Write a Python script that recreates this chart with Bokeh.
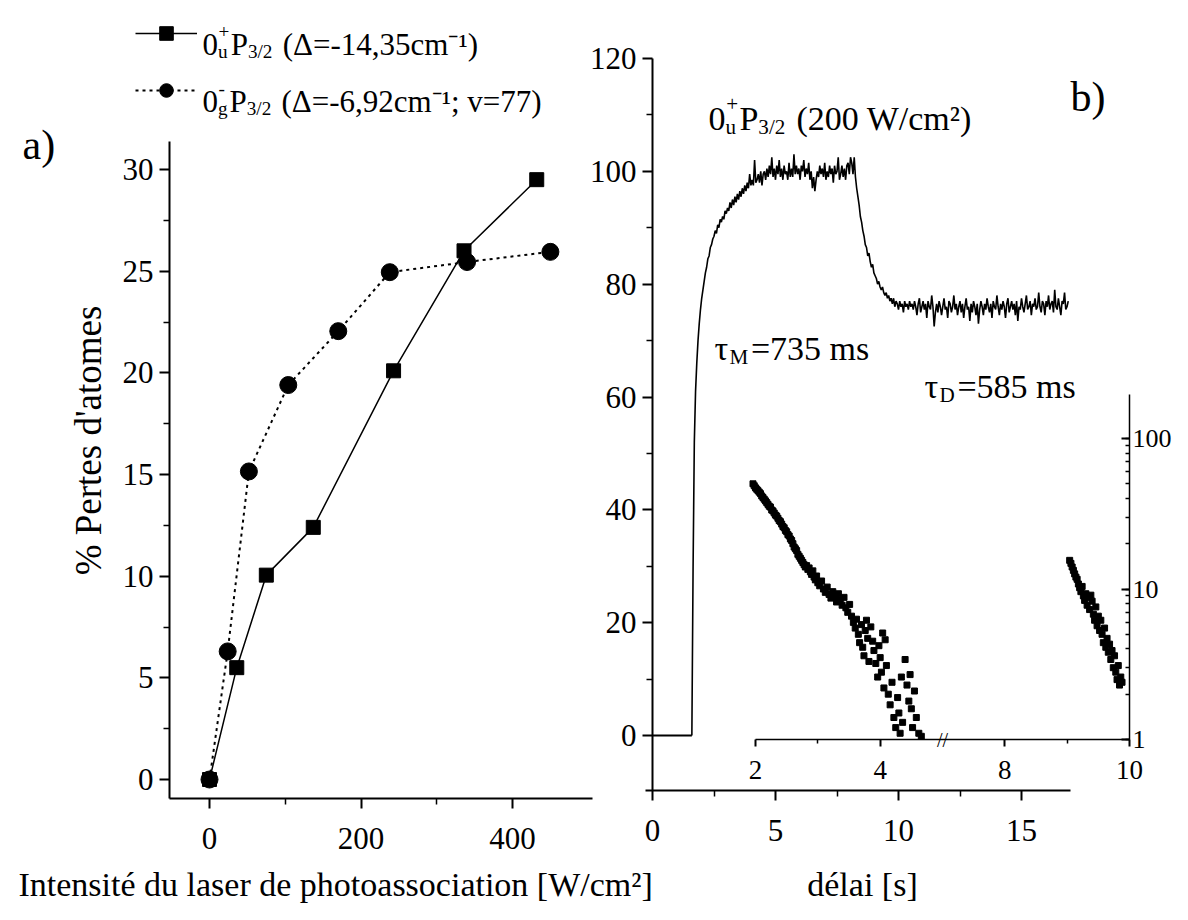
import math
from bokeh.plotting import figure
from bokeh.models import (Range1d, LinearAxis, LogAxis, LogScale, FixedTicker, LogTicker,
                          Label, Legend, LegendItem)
from bokeh.embed import file_html
from bokeh.resources import INLINE
from bokeh.core.properties import value

FONT = "Liberation Serif"
FONT_MID = "Times"   # used for the rotated text

# ---------------- data ----------------
# panel a : atom losses (%) vs photoassociation laser intensity (W/cm2)
a_sq_x = [0, 36, 75, 137, 243, 336, 432]
a_sq_y = [0, 5.5, 10.05, 12.4, 20.1, 26.0, 29.5]
a_ci_x = [0, 24, 52, 104, 170, 238, 340, 450]
a_ci_y = [0, 6.3, 15.15, 19.4, 22.05, 24.95, 25.45, 25.95]

a_xticks = [0, 200, 400]
a_xminor = [100, 300]
a_yticks = [0, 5, 10, 15, 20, 25, 30]
a_yminor = [2.5, 7.5, 12.5, 17.5, 22.5, 27.5]

# panel b : signal vs delay (s)
base_t = [0.0, 1.60]
base_v = [0.0, 0.0]
trace_t0 = 1.60
trace_dt = 0.05
trace_v = [
    # rise 1.60 - 4.80
    0, 30, 52, 61, 66, 70, 73, 75.5, 77.5, 79,
    80.5, 82, 83, 84.5, 85, 86.5, 87, 88, 88.5, 89.5,
    89, 90.5, 90, 91.5, 91, 92, 91.5, 93, 92.5, 93.5,
    93, 94.5, 93.5, 95, 94, 95.5, 94.5, 96, 95, 96.5,
    95.5, 97, 96, 97.5, 96.5, 98, 97, 99.5, 97.5, 98.5,
    97.5, 102, 98, 98.5, 99.5, 98, 100, 97.5, 99.5, 100,
    98.5, 100.5, 99, 101, 99.5,
    # plateau 4.85 - 8.20
    102.5, 99, 100.5, 98.5, 101, 99.5, 102, 99, 100.5, 98.5,
    101, 99.5, 100, 98.5, 101.5, 99, 100.5, 99, 103, 99.5,
    101, 99.5, 100.5, 98.5, 101, 100, 102, 99, 100.5, 99.5,
    101.5, 98.5, 100, 97, 99, 96.5, 98.5, 100, 99, 101,
    99.5, 100.5, 99, 101.5, 98.5, 100, 99, 101, 99.5, 100.5,
    98, 101, 99.5, 100, 102.5, 98.5, 99.5, 101, 99, 100.5,
    98.5, 101, 101.5, 99.5, 102.5, 101.5, 99.5, 102.5,
    # decay 8.25 - 10.50
    99, 97, 95.5, 94, 92, 91, 89.5, 88.5, 87, 86.5,
    85, 85.5, 84, 83, 83.5, 82, 81.5, 81, 80, 80.5,
    79.5, 79, 79.5, 78.5, 78, 78.5, 77.5, 78, 77, 77.5,
    76.5, 77.5, 76, 77, 76.5, 75.5, 77, 76, 76.5, 75,
    77, 76, 76.5, 75.5, 77, 76,
    # tail 10.55 - 16.90
    76.5, 75.5, 77, 76, 74.5, 76.5, 77.5, 75, 76, 77,
    75.5, 76.5, 74, 77, 76, 75.5, 78, 76, 72.5, 75,
    76.5, 75, 77, 76, 74.5, 76, 77.5, 75.5, 76, 74,
    77, 76.5, 75, 76, 78, 75.5, 76.5, 74.5, 76, 77,
    75, 76.5, 74, 76, 77.5, 75.5, 76, 73.5, 76.5, 75,
    77, 76, 74.5, 76.5, 73, 75.5, 77, 76, 74.5, 76.5,
    75.5, 77.5, 76, 75, 76.5, 74, 77, 76, 75.5, 78,
    76, 74.5, 76.5, 75.5, 77, 76, 74, 76.5, 77.5, 75,
    76, 77, 75.5, 76.5, 74.5, 77, 73.5, 76, 75.5, 77.5,
    76, 75, 76.5, 78, 75.5, 76, 77, 74.5, 76.5, 76,
    77.5, 75.5, 76, 78.5, 76, 75, 77, 76.5, 74.5, 77,
    76, 78, 75.5, 76.5, 77, 75, 79, 76, 75.5, 77.5,
    76, 74.5, 77, 76.5, 78.5, 75.5, 76, 77,
]
trace_t = [trace_t0 + trace_dt * i for i in range(len(trace_v))]

b_xticks = [0, 5, 10, 15]
b_xminor = [2.5, 7.5, 12.5]
b_yticks = [0, 20, 40, 60, 80, 100, 120]
b_yminor = [10, 30, 50, 70, 90, 110]

# inset (log scale), broken time axis: 5 s .. 7 s removed
gap_start, gap_end = 5.0, 7.0
ins1_t = [1.96, 1.98, 2.00, 2.02, 2.04, 2.06, 2.08, 2.10, 2.12, 2.14, 2.16, 2.18, 2.20, 2.22,
          2.24, 2.26, 2.28, 2.30, 2.32, 2.34, 2.36, 2.38, 2.40, 2.42, 2.44, 2.46, 2.48, 2.50,
          2.52, 2.54, 2.56, 2.58, 2.60, 2.62, 2.64, 2.66, 2.68, 2.70, 2.72, 2.74, 2.76, 2.78,
          2.80, 2.82, 2.84, 2.86, 2.88, 2.90, 2.92, 2.94, 2.96, 2.98, 3.00, 3.03, 3.06, 3.09,
          3.12, 3.15, 3.18, 3.21, 3.24, 3.27, 3.30, 3.33, 3.36, 3.39, 3.42, 3.45, 3.48, 3.51,
          3.54, 3.57, 3.60, 3.62, 3.65, 3.67, 3.70, 3.72, 3.74, 3.76, 3.78, 3.80, 3.82, 3.85,
          3.88, 3.90, 3.93, 3.96, 3.98, 4.00, 4.02, 4.04, 4.06, 4.08, 4.10, 4.13, 4.16, 4.19,
          4.22, 4.25, 4.28, 4.30, 4.32, 4.34, 4.36, 4.40, 4.43, 4.46, 4.48, 4.50, 4.52, 4.55,
          4.58, 4.62, 4.66]
ins1_v = [50, 48.5, 47, 46, 45, 44, 43, 41.5, 40.5, 39.5, 38.5, 37.5, 36.5, 35.5,
          35, 33.5, 33, 32, 31, 30.5, 29.5, 28.5, 28, 27, 26, 25.5, 24.5, 24,
          23, 22.5, 21.5, 21, 20, 19, 18.5, 18, 17, 16.5, 16, 15.5, 15, 14.5,
          14, 14.3, 13.5, 13.8, 13, 12.5, 13.2, 12, 11.5, 12.2, 11, 10.5, 11.3, 10,
          9.5, 10.3, 9.2, 8.7, 9.6, 8.9, 8.2, 9.3, 8.5, 7.8, 8.8, 7.5, 7.0, 7.9,
          6.6, 6.0, 5.5, 6.3, 5.0, 4.4, 5.8, 4.1, 3.6, 5.3, 6.2, 4.7, 3.3, 5.6,
          4.5, 3.9, 3.2, 2.6, 4.2, 3.5, 2.8, 5.1, 2.2, 4.6, 3.1, 2.0, 1.7, 2.4,
          1.4, 1.2, 1.9, 1.5, 1.1, 2.6, 1.3, 3.4, 2.3, 1.8, 2.7, 1.6, 1.2, 2.1,
          1.4, 1.1, 1.05]
ins2_t = [9.04, 9.06, 9.08, 9.10, 9.12, 9.14, 9.16, 9.18, 9.20, 9.22, 9.24, 9.26, 9.28, 9.30,
          9.32, 9.34, 9.36, 9.38, 9.40, 9.42, 9.44, 9.46, 9.48, 9.50, 9.52, 9.54, 9.56, 9.58,
          9.60, 9.62, 9.64, 9.66, 9.68, 9.70, 9.72, 9.74, 9.76, 9.78, 9.80, 9.82, 9.84, 9.86, 9.88]
ins2_v = [15.5, 14.8, 14, 13.3, 12.6, 12, 11.6, 10.8, 10.2, 9.6, 10.4, 9, 8.4, 9.3,
          7.8, 8.8, 7.3, 9.1, 8.3, 6.8, 6.2, 7.6, 5.7, 6.6, 5.3, 6.2, 5.0, 4.4,
          5.5, 4.1, 4.7, 3.8, 4.3, 3.4, 3.9, 3.0, 3.6, 2.8, 2.5, 3.1, 2.3, 2.6, 2.4]
ins_xticks_real = [2, 4, 8, 10]
ins_xminor_real = [3, 9]
ins_yticks = [1, 10, 100]
ins_y_bounds = (1, 195)


def disp(t):
    """broken-axis display coordinate"""
    return t if t <= gap_start else t - (gap_end - gap_start)


# ---------------- layout anchors (page pixels) ----------------
W, H = 1172, 904
PX0, PX1 = 8, 8 + W
PY0, PY1 = 8, 8 + H


def xr(p1, v1, p2, v2):
    k = (v2 - v1) / (p2 - p1)
    return Range1d(v1 + (PX0 - p1) * k, v1 + (PX1 - p1) * k)


def yr(p1, v1, p2, v2):
    k = (v2 - v1) / (p2 - p1)
    return Range1d(v1 + (PY1 - p1) * k, v1 + (PY0 - p1) * k)


def ylog(p1, v1, p2, v2):
    l1, l2 = math.log10(v1), math.log10(v2)
    k = (l2 - l1) / (p2 - p1)
    return Range1d(10 ** (l1 + (PY1 - p1) * k), 10 ** (l1 + (PY0 - p1) * k))


ranges_x = {
    "ax": xr(217, 0, 520, 400),
    "bx": xr(660, 0, 783, 5),
    "ix": xr(763, 2, 1137, 8),
}
ranges_y = {
    "ay": yr(787, 0, 177, 30),
    "by": yr(743, 0, 66, 120),
    "iy": ylog(747, 1, 446, 100),
}

p = figure(width=W, height=H, x_range=Range1d(PX0, PX1), y_range=Range1d(PY1, PY0),
           x_axis_location=None, y_axis_location=None, min_border=0,
           toolbar_location=None, output_backend="svg", title=None,
           extra_x_ranges=ranges_x, extra_y_ranges=ranges_y,
           extra_y_scales={"iy": LogScale()})
p.outline_line_color = None
p.background_fill_color = "white"
p.border_fill_color = "white"
p.grid.visible = False


def style_axis(ax, tick_out=10, minor_out=6, width=2):
    ax.axis_line_width = width
    ax.axis_line_color = "black"
    ax.major_tick_line_width = 2
    ax.minor_tick_line_width = 1.5
    ax.major_tick_out = tick_out
    ax.major_tick_in = 0
    ax.minor_tick_out = minor_out
    ax.minor_tick_in = 0
    ax.major_label_text_font_size = "0px"


def tick_labels(ticks, texts, side, xname, yname, loc, size, off):
    for t, s in zip(ticks, texts):
        if side == "left":
            kw = dict(x=loc, y=t, x_offset=-off, text_align="right")
        elif side == "right":
            kw = dict(x=loc, y=t, x_offset=off, text_align="left")
        else:
            kw = dict(x=t, y=loc, y_offset=-(off + 0.70 * size), text_align="center")
        p.add_layout(Label(x_range_name=xname, y_range_name=yname, text=s, text_font=FONT,
                           text_font_size=f"{size:.1f}px", text_color="black",
                           text_baseline="alphabetic", **kw))


def blank(ticks):
    return {t: "" for t in ticks}


# panel a axes
A_YLOC, A_XLOC = -52.8, -0.93
ax_a_y = LinearAxis(x_range_name="ax", y_range_name="ay", fixed_location=A_YLOC,
                    bounds=(A_XLOC, 31.4), ticker=FixedTicker(ticks=a_yticks, minor_ticks=a_yminor),
                    major_label_overrides=blank(a_yticks))
style_axis(ax_a_y)
p.add_layout(ax_a_y, "left")
tick_labels(a_yticks, [str(t) for t in a_yticks], "left", "ax", "ay", A_YLOC, 31, 16)
ax_a_x = LinearAxis(x_range_name="ax", y_range_name="ay", fixed_location=A_XLOC,
                    bounds=(A_YLOC, 505), ticker=FixedTicker(ticks=a_xticks, minor_ticks=a_xminor),
                    major_label_overrides=blank(a_xticks))
style_axis(ax_a_x)
p.add_layout(ax_a_x, "below")
tick_labels(a_xticks, [str(t) for t in a_xticks], "below", "ax", "ay", A_XLOC, 31, 18)

# panel b axes
B_YLOC, B_XLOC = 0, -9.75
ax_b_y = LinearAxis(x_range_name="bx", y_range_name="by", fixed_location=B_YLOC,
                    bounds=(B_XLOC, 120), ticker=FixedTicker(ticks=b_yticks, minor_ticks=b_yminor),
                    major_label_overrides=blank(b_yticks))
style_axis(ax_b_y)
p.add_layout(ax_b_y, "left")
tick_labels(b_yticks, [str(t) for t in b_yticks], "left", "bx", "by", B_YLOC, 31, 16)
ax_b_x = LinearAxis(x_range_name="bx", y_range_name="by", fixed_location=B_XLOC,
                    bounds=(-0.3, 17.0), ticker=FixedTicker(ticks=b_xticks, minor_ticks=b_xminor),
                    major_label_overrides=blank(b_xticks))
style_axis(ax_b_x)
p.add_layout(ax_b_x, "below")
tick_labels(b_xticks, [str(t) for t in b_xticks], "below", "bx", "by", B_XLOC, 31, 18)

# inset axes
ins_ticks = [disp(t) for t in ins_xticks_real]
ax_i_x = LinearAxis(x_range_name="ix", y_range_name="iy", fixed_location=ins_y_bounds[0],
                    bounds=(ins_ticks[0], ins_ticks[-1]),
                    ticker=FixedTicker(ticks=ins_ticks, minor_ticks=[disp(t) for t in ins_xminor_real]),
                    major_label_overrides=blank(ins_ticks))
style_axis(ax_i_x, 7, 4, 1.5)
p.add_layout(ax_i_x, "below")
tick_labels(ins_ticks, [str(t) for t in ins_xticks_real], "below", "ix", "iy",
            ins_y_bounds[0], 27, 12)
ax_i_y = LogAxis(x_range_name="ix", y_range_name="iy", fixed_location=ins_ticks[-1],
                 bounds=ins_y_bounds, ticker=LogTicker(num_minor_ticks=10),
                 major_label_overrides=blank(ins_yticks))
style_axis(ax_i_y, 0, 0, 1.5)
ax_i_y.major_tick_in = 8
ax_i_y.minor_tick_in = 4
p.add_layout(ax_i_y, "right")
tick_labels(ins_yticks, [str(t) for t in ins_yticks], "right", "ix", "iy",
            ins_ticks[-1], 26, 3)

# ---------------- glyphs ----------------
l_ci = p.line(a_ci_x, a_ci_y, x_range_name="ax", y_range_name="ay", line_color="black",
              line_width=2, line_dash="3 4")
s_ci = p.scatter(a_ci_x, a_ci_y, x_range_name="ax", y_range_name="ay", marker="circle",
                 size=17, fill_color="black", line_color="black")
l_sq = p.line(a_sq_x, a_sq_y, x_range_name="ax", y_range_name="ay", line_color="black",
              line_width=1.5)
s_sq = p.scatter(a_sq_x, a_sq_y, x_range_name="ax", y_range_name="ay", marker="square",
                 size=14, fill_color="black", line_color="black")

p.line(base_t, base_v, x_range_name="bx", y_range_name="by", line_color="black", line_width=2)
p.line(trace_t, trace_v, x_range_name="bx", y_range_name="by", line_color="black", line_width=1.6)

p.scatter([disp(t) for t in ins1_t], ins1_v, x_range_name="ix", y_range_name="iy",
          marker="square", size=6, fill_color="black", line_color="black")
p.scatter([disp(t) for t in ins2_t], ins2_v, x_range_name="ix", y_range_name="iy",
          marker="square", size=6, fill_color="black", line_color="black")
p.text(x=[gap_start], y=[ins_y_bounds[0]], text=["//"], x_range_name="ix", y_range_name="iy",
       text_font=value(FONT), text_font_size="20px", text_align="center",
       text_baseline="alphabetic", text_color="black")

legend = Legend(items=[LegendItem(label=" ", renderers=[l_sq, s_sq]),
                       LegendItem(label=" ", renderers=[l_ci, s_ci])],
                location=(135, 797), glyph_width=62, glyph_height=34, spacing=23,
                padding=0, margin=0, border_line_color=None, background_fill_alpha=0,
                label_standoff=0, label_text_font_size="1px", label_width=1, label_height=34)
p.add_layout(legend, "center")

# ---------------- texts ----------------
NB = "\u00a0"
CW = {' ': .25, NB: .25, '(': .333, ')': .333, '=': .564, '-': .333, ',': .25, ';': .278,
      '/': .278, '+': .564, 'c': .444, 'm': .778, 'P': .556, 'W': .944, 'v': .5, 'Δ': .612,
      'τ': .44, 's': .389, 'u': .5, 'g': .5, 'M': .889, 'D': .722, '[': .333, ']': .333}


def tw(s):
    return sum(CW.get(ch, 0.5) for ch in s)


def put(x, y, t, size):
    p.add_layout(Label(x=x, y=y, text=t, text_font=FONT, text_font_size=f"{size:.1f}px",
                       text_color="black", text_align="left", text_baseline="alphabetic"))


def rich(x, y, size, parts):
    small = size * 0.62
    for kind, t in parts:
        if kind == "n":
            put(x, y, t, size)
            x += tw(t) * size
        elif kind == "sub":
            put(x, y + 0.24 * size, t, small)
            x += tw(t) * small + 0.08 * size
        elif kind == "stack":
            sb, sp = t
            put(x, y + 0.24 * size, sb, small)
            put(x + 0.02 * size, y - 0.42 * size, sp, small)
            x += max(tw(sb), tw(sp)) * small + 0.06 * size


LEG = 31
rich(210, 52, LEG, [("n", "0"), ("stack", ("u", "+")), ("n", "P"), ("sub", "3/2"),
                    ("n", NB + "(Δ=-14,35cm⁻¹)")])
rich(210, 109, LEG, [("n", "0"), ("stack", ("g", "-")), ("n", "P"), ("sub", "3/2"),
                     ("n", NB + "(Δ=-6,92cm⁻¹; v=77)")])
put(30, 152, "a)", 42)
put(1078, 104, "b)", 42)
rich(716, 126, 34, [("n", "0"), ("stack", ("u", "+")), ("n", "P"), ("sub", "3/2"),
                    ("n", NB + "(200 W/cm²)")])
rich(722, 356, 34, [("n", "τ"), ("sub", "M"), ("n", "=735 ms")])
rich(932, 394, 34, [("n", "τ"), ("sub", "D"), ("n", "=585 ms")])

p.add_layout(Label(x=96, y=448, text="% Pertes d'atomes", text_font=FONT_MID,
                   text_font_size="37px", angle=math.pi / 2, text_align="center",
                   text_baseline="middle", text_color="black"))
put(26, 892, "Intensité du laser de photoassociation [W/cm²]", 34)
p.add_layout(Label(x=870, y=892, text="délai [s]", text_font=FONT, text_font_size="34.0px",
                   text_align="center", text_baseline="alphabetic", text_color="black"))

open("out.html", "w").write(file_html(p, INLINE))
